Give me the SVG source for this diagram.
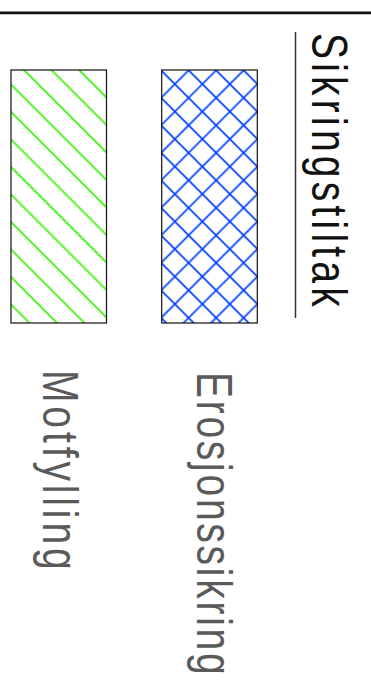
<svg xmlns="http://www.w3.org/2000/svg" width="371" height="682" viewBox="0 0 371 682">
<style>
.lbl{font-family:"Liberation Sans","Arial",sans-serif;font-size:50px;}
.gray{fill:#5a5a5a;}
.blk{fill:#111;}
.box{stroke:#111;stroke-width:1.2;}
</style>
<defs>
<pattern id="hatchG" patternUnits="userSpaceOnUse" width="19.445" height="19.445" patternTransform="rotate(-45)">
<line x1="6.36" y1="-1" x2="6.36" y2="21" stroke="#33f000" stroke-width="1.7"/>
</pattern>
<pattern id="hatchB" patternUnits="userSpaceOnUse" width="19.445" height="19.445" patternTransform="rotate(45)">
<line x1="8.13" y1="-1" x2="8.13" y2="21" stroke="#0040ff" stroke-width="1.7"/>
<line x1="-1" y1="13.58" x2="21" y2="13.58" stroke="#0040ff" stroke-width="1.7"/>
</pattern>
</defs>
<line x1="0" y1="12.8" x2="371" y2="12.8" stroke="#111" stroke-width="2.8"/>
<g id="legend-title">
<line x1="295.5" y1="32" x2="295.5" y2="318" stroke="#333" stroke-width="1.5"/>
<text class="lbl blk" transform="translate(312,33) rotate(90) scale(0.78,1)" textLength="351" lengthAdjust="spacing">Sikringstiltak</text>
</g>
<g id="item-motfylling">
<rect x="11" y="70" width="95.5" height="253" fill="#fff"/>
<rect class="box" x="11" y="70" width="95.5" height="253" fill="url(#hatchG)"/>
<text class="lbl gray" transform="translate(43,370) rotate(90) scale(0.78,1)" textLength="256" lengthAdjust="spacing">Motfylling</text>
</g>
<g id="item-erosjonssikring">
<rect x="161.7" y="70" width="95.6" height="253" fill="#fff"/>
<rect class="box" x="161.7" y="70" width="95.6" height="253" fill="url(#hatchB)"/>
<text class="lbl gray" transform="translate(197,372) rotate(90) scale(0.78,1)" textLength="388" lengthAdjust="spacing">Erosjonssikring</text>
</g>
<g id="connectors"/>
</svg>
